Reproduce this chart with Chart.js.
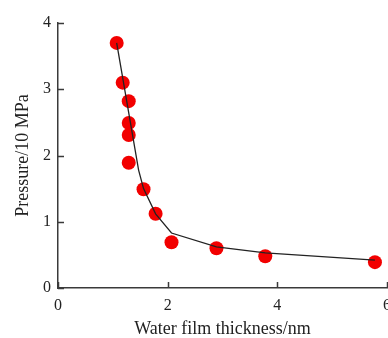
<!DOCTYPE html>
<html>
<head>
<meta charset="utf-8">
<script src="https://cdn.jsdelivr.net/npm/chart.js@4/dist/chart.umd.min.js"></script>
<style>
  html, body { margin: 0; padding: 0; background: #fff; }
  #wrap { width: 388px; height: 338px; }
</style>
</head>
<body>
<div id="wrap"><canvas id="presionChart" width="388" height="338"></canvas></div>
<script>
// measured points
const thickness = [1.07, 1.18, 1.29, 1.29, 1.29, 1.29, 1.56, 1.78, 2.07, 2.89, 3.78, 5.78];
const pressure  = [3.70, 3.10, 2.82, 2.49, 2.31, 1.89, 1.49, 1.12, 0.69, 0.60, 0.48, 0.39];

// fitted curve
const fitX = [1.07, 1.47, 1.56, 1.78, 2.07, 2.89, 3.78, 5.78];
const fitY = [3.70, 1.78, 1.50, 1.12, 0.83, 0.62, 0.53, 0.42];

const xTicks = [0, 2, 4, 6];
const yTicks = [0, 1, 2, 3, 4];

const serif = '"Liberation Serif", "Times New Roman", serif';
const axisColor = '#3a3a3a';

// ticks pointing into the plot area
const innerTicks = {
    id: 'innerTicks',
    afterDraw(chart) {
        const ctx = chart.ctx;
        const xs = chart.scales.x, ys = chart.scales.y;
        const area = chart.chartArea;
        ctx.save();
        ctx.strokeStyle = axisColor;
        ctx.lineWidth = 1.5;
        ctx.beginPath();
        xTicks.forEach(v => {
            const px = Math.round(xs.getPixelForValue(v)) + 0.5;
            ctx.moveTo(px, area.bottom);
            ctx.lineTo(px, area.bottom - 6);
        });
        yTicks.forEach(v => {
            const py = Math.round(ys.getPixelForValue(v)) + 0.5;
            ctx.moveTo(area.left, py);
            ctx.lineTo(area.left + 6, py);
        });
        ctx.stroke();
        ctx.restore();
    }
};

new Chart(document.getElementById('presionChart').getContext('2d'), {
    type: 'scatter',
    data: {
        datasets: [{
            type: 'line',
            label: 'Fit',
            data: fitX.map((x, i) => ({ x: x, y: fitY[i] })),
            borderColor: '#222',
            borderWidth: 1.3,
            pointRadius: 0,
            tension: 0,
            fill: false,
            order: 0
        }, {
            label: 'Measured',
            data: thickness.map((x, i) => ({ x: x, y: pressure[i] })),
            backgroundColor: '#f20000',
            borderColor: '#f20000',
            borderWidth: 0,
            pointRadius: 7,
            order: 1
        }]
    },
    options: {
        responsive: false,
        animation: false,
        layout: { autoPadding: false, padding: { top: 23, right: 1, left: 0, bottom: 0 } },
        plugins: { legend: { display: false }, tooltip: { enabled: false } },
        scales: {
            x: {
                type: 'linear',
                min: 0, max: 6,
                afterBuildTicks: s => { s.ticks = xTicks.map(v => ({ value: v })); },
                afterFit: s => { s.height = 50; s.paddingLeft = 0; s.paddingRight = 0; },
                border: { color: axisColor, width: 1.5 },
                grid: { display: true, drawOnChartArea: false, drawTicks: false },
                ticks: { color: '#222', padding: 8, font: { family: serif, size: 16 } },
                title: {
                    display: true,
                    text: 'Water film thickness/nm',
                    color: '#222',
                    font: { family: serif, size: 18, lineHeight: 1 },
                    padding: { top: 0, bottom: 0 }
                }
            },
            y: {
                type: 'linear',
                min: 0, max: 4,
                afterBuildTicks: s => { s.ticks = yTicks.map(v => ({ value: v })); },
                afterFit: s => { s.width = 58; s.paddingTop = 0; s.paddingBottom = 0; },
                border: { color: axisColor, width: 1.5 },
                grid: { display: true, drawOnChartArea: false, drawTicks: false },
                ticks: { color: '#222', padding: 7, font: { family: serif, size: 16 } },
                title: {
                    display: true,
                    text: 'Pressure/10 MPa',
                    color: '#222',
                    font: { family: serif, size: 18, lineHeight: 1 },
                    padding: { top: 14, bottom: 0 }
                }
            }
        }
    },
    plugins: [innerTicks]
});
</script>
</body>
</html>
